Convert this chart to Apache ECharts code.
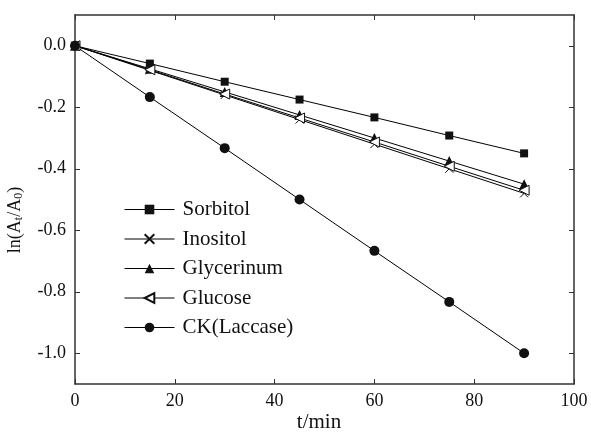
<!DOCTYPE html>
<html>
<head>
<meta charset="UTF-8">
<script src="https://cdn.jsdelivr.net/npm/echarts@6/dist/echarts.min.js"></script>
<style>
  html, body { margin: 0; padding: 0; background: #fff; }
  #chart { width: 591px; height: 435px; }
</style>
</head>
<body>
<div id="chart"></div>
<script>
// time points (min)
const times = [0, 15, 30, 45, 60, 75, 90];
// ln(At/A0) per additive
const sorbitol   = [0, -0.058, -0.117, -0.175, -0.233, -0.292, -0.350];
const inositol   = [0, -0.080, -0.160, -0.240, -0.320, -0.400, -0.480];
const glycerinum = [0, -0.075, -0.150, -0.225, -0.300, -0.375, -0.450];
const glucose    = [0, -0.078, -0.157, -0.235, -0.313, -0.392, -0.470];
const ck         = [0, -0.167, -0.333, -0.500, -0.667, -0.833, -1.000];
const yTicks = [0, -0.2, -0.4, -0.6, -0.8, -1.0];

const font = 'Liberation Serif';
const pairs = arr => times.map((t, i) => [t, arr[i]]);

function line(name, data, symbol, size, item, extra) {
  return Object.assign({
    name: name,
    type: 'line',
    data: pairs(data),
    symbol: symbol,
    symbolSize: size,
    lineStyle: { color: '#000', width: 1 },
    itemStyle: item,
    z: 3
  }, extra || {});
}

const chart = echarts.init(document.getElementById('chart'));
const axisLine = { show: true, onZero: false, lineStyle: { color: '#333', width: 1.5 } };
const tick = { inside: true, length: 5, lineStyle: { color: '#333' } };
chart.setOption({
  animation: false,
  grid: { left: 75, right: 17, top: 15, bottom: 51, outerBoundsMode: 'none', containLabel: false },
  legend: {
    orient: 'vertical',
    left: 119,
    top: 194,
    itemWidth: 50,
    itemHeight: 12,
    itemGap: 8.5,
    lineStyle: { width: 1 },
    textStyle: { fontFamily: font, fontSize: 21, color: '#111', lineHeight: 21, padding: [0, 0, 0, 3] },
    data: ['Sorbitol', 'Inositol', 'Glycerinum', 'Glucose', 'CK(Laccase)']
  },
  graphic: [{
    type: 'text',
    x: 15, y: 220,
    rotation: Math.PI / 2,
    style: {
      text: '{n|ln(A}{s|t}{n|/A}{s|0}{n|)}',
      align: 'center', verticalAlign: 'middle',
      rich: {
        n: { fontFamily: font, fontSize: 18, fill: '#111' },
        s: { fontFamily: font, fontSize: 12, fill: '#111', verticalAlign: 'bottom', padding: [8, 0, 0, 0] }
      }
    }
  }],
  xAxis: [{
    type: 'value', min: 0, max: 100, interval: 20,
    name: 't/min', nameLocation: 'middle', nameGap: 28, nameMoveOverlap: false,
    nameTextStyle: { fontFamily: font, fontSize: 21, color: '#111', padding: [0, 11, 0, 0], verticalAlign: 'top' },
    axisLine: axisLine,
    axisTick: tick,
    axisLabel: { fontFamily: font, fontSize: 18, color: '#111', margin: 8 },
    splitLine: { show: false }
  }, {
    type: 'value', min: 0, max: 100, interval: 20, position: 'top',
    axisLine: axisLine,
    axisTick: tick,
    axisLabel: { show: false },
    splitLine: { show: false }
  }],
  yAxis: [{
    type: 'value', min: -1.1, max: 0.1,
    axisLine: axisLine,
    axisTick: Object.assign({ customValues: yTicks }, tick),
    axisLabel: {
      fontFamily: font, fontSize: 18, color: '#111', margin: 9,
      customValues: yTicks,
      formatter: v => v.toFixed(1)
    },
    splitLine: { show: false }
  }, {
    type: 'value', min: -1.1, max: 0.1, position: 'right',
    axisLine: axisLine,
    axisTick: Object.assign({ customValues: yTicks }, tick),
    axisLabel: { show: false },
    splitLine: { show: false }
  }],
  series: [
    line('Sorbitol', sorbitol, 'rect', 8, { color: '#111' }),
    line('Inositol', inositol, 'path://M0,0L10,10M10,0L0,10', 8, { color: '#fff', borderColor: '#111', borderWidth: 1 }),
    line('Glycerinum', glycerinum, 'triangle', 10, { color: '#111' }),
    line('Glucose', glucose, 'triangle', 10, { color: '#fff', borderColor: '#111', borderWidth: 1 }, { symbolRotate: 90 }),
    line('CK(Laccase)', ck, 'circle', 10, { color: '#111' })
  ]
});
</script>
</body>
</html>
